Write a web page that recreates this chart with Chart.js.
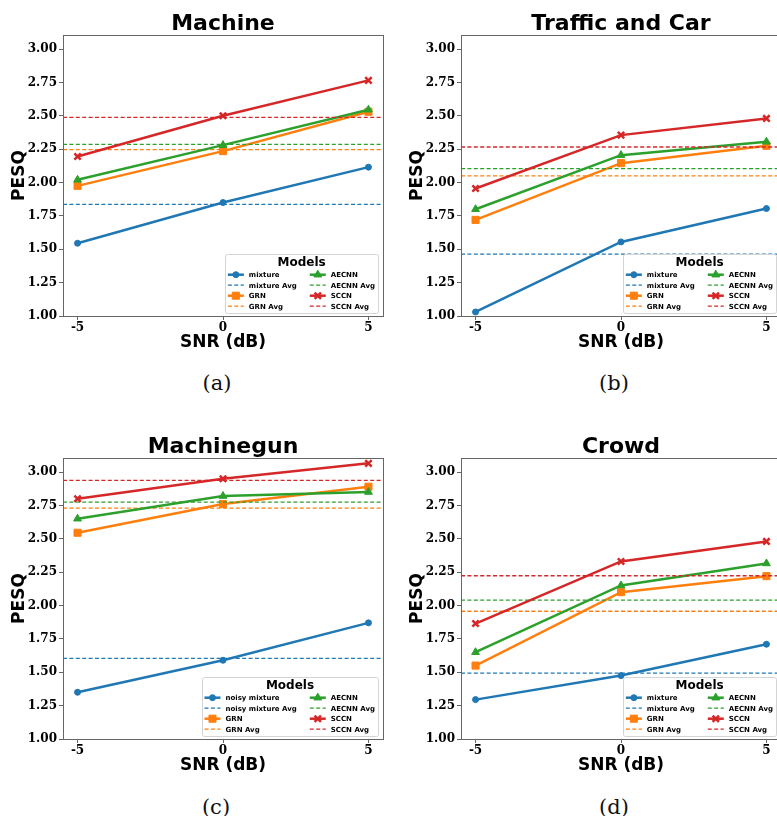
<!DOCTYPE html>
<html>
<head>
<meta charset="utf-8">
<script src="https://cdn.jsdelivr.net/npm/chart.js"></script>
<style>
  body { margin: 0; width: 777px; height: 816px; overflow: hidden; background: #fff; position: relative; }
  .panel { position: absolute; width: 390px; height: 360px; }
  .cap { position: absolute; width: 80px; text-align: center; font: 21px "DejaVu Serif"; line-height: 24px; color: #111; }
</style>
</head>
<body>
<div class="panel" style="left:0;top:0"><canvas id="c0" width="390" height="360"></canvas></div>
<div class="panel" style="left:398px;top:0"><canvas id="c1" width="390" height="360"></canvas></div>
<div class="panel" style="left:0;top:423px"><canvas id="c2" width="390" height="360"></canvas></div>
<div class="panel" style="left:398px;top:423px"><canvas id="c3" width="390" height="360"></canvas></div>
<div class="cap" style="left:177px;top:371px">(a)</div>
<div class="cap" style="left:574px;top:371px">(b)</div>
<div class="cap" style="left:176px;top:795px">(c)</div>
<div class="cap" style="left:574px;top:795px">(d)</div>
<script>
// values, one entry per panel (a)-(d)
const snr = [-5, 0, 5];
const yTicks = [1.0, 1.25, 1.5, 1.75, 2.0, 2.25, 2.5, 2.75, 3.0];
const titles = ["Machine", "Traffic and Car", "Machinegun", "Crowd"];
const mixtureNames = ["mixture", "mixture", "noisy mixture", "mixture"];

const mixtureScores = [[1.545, 1.85, 2.115], [1.03, 1.555, 1.805], [1.35, 1.59, 1.87], [1.295, 1.475, 1.71]];
const grnScores = [[1.975, 2.235, 2.53], [1.72, 2.145, 2.275], [2.545, 2.76, 2.89], [1.55, 2.10, 2.22]];
const aecnnScores = [[2.02, 2.28, 2.545], [1.80, 2.205, 2.305], [2.65, 2.82, 2.85], [1.65, 2.15, 2.315]];
const sccnScores = [[2.195, 2.50, 2.765], [1.955, 2.355, 2.48], [2.80, 2.95, 3.065], [1.865, 2.33, 2.48]];

const mixtureAvg = [1.836, 1.464, 1.604, 1.494];
const grnAvg = [2.247, 2.049, 2.73, 1.957];
const aecnnAvg = [2.286, 2.104, 2.775, 2.041];
const sccnAvg = [2.488, 2.266, 2.938, 2.223];

const colors = { mixture: "#1f77b4", grn: "#ff7f0e", aecnn: "#2ca02c", sccn: "#d62728" };

Chart.defaults.font.family = "DejaVu Sans";
Chart.defaults.color = "#000";

const X_MIN = -5.5, X_MAX = 5.5;

// box around the axes, like matplotlib spines
const frame = {
  id: "frame",
  afterDatasetsDraw(chart) {
    const { ctx, chartArea: a } = chart;
    ctx.save();
    ctx.strokeStyle = "#666";
    ctx.lineWidth = 1;
    ctx.strokeRect(Math.round(a.left) + 0.5, Math.round(a.top) + 0.5,
      Math.round(a.right - a.left), Math.round(a.bottom - a.top));
    ctx.restore();
  }
};

// two-column legend in the lower right corner
const boxLegend = {
  id: "boxLegend",
  afterDraw(chart) {
    const { ctx, chartArea: a } = chart;
    const sets = chart.data.datasets;
    const cols = [sets.slice(0, 4), sets.slice(4)];
    ctx.save();
    ctx.font = 'bold 7px "DejaVu Sans"';
    const widths = cols.map(c => Math.max(...c.map(d => ctx.measureText(d.label).width)));
    const hl = 16, gap = 5, colGap = 13, padL = 2.5, padR = 3, h = 59;
    const w = padL + hl + gap + widths[0] + colGap + hl + gap + widths[1] + padR;
    const x0 = a.right - 5 - w, y0 = a.bottom - 3 - h;

    ctx.fillStyle = "rgba(255,255,255,0.85)";
    ctx.strokeStyle = "#d4d4d4";
    ctx.lineWidth = 1;
    ctx.beginPath();
    ctx.roundRect(Math.round(x0) + 0.5, Math.round(y0) + 0.5, Math.round(w), h, 2);
    ctx.fill();
    ctx.stroke();

    ctx.fillStyle = "#000";
    ctx.font = 'bold 12px "DejaVu Sans"';
    ctx.textAlign = "center";
    ctx.textBaseline = "middle";
    ctx.fillText("Models", x0 + w / 2, y0 + 8.5);

    ctx.font = 'bold 7px "DejaVu Sans"';
    ctx.textAlign = "left";
    cols.forEach((col, c) => {
      const hx = c ? x0 + padL + hl + gap + widths[0] + colGap : x0 + padL;
      col.forEach((d, r) => {
        const y = y0 + 20.7 + r * 10.5;
        ctx.save();
        ctx.strokeStyle = d.borderColor;
        ctx.lineWidth = d.borderWidth;
        ctx.setLineDash(d.borderDash || []);
        ctx.beginPath();
        ctx.moveTo(hx, y);
        ctx.lineTo(hx + hl, y);
        ctx.stroke();
        ctx.setLineDash([]);
        if (d.pointRadius > 0) {
          ctx.fillStyle = d.borderColor;
          ctx.lineWidth = d.pointBorderWidth;
          Chart.helpers.drawPoint(ctx, { pointStyle: d.pointStyle, radius: d.pointRadius, borderWidth: d.pointBorderWidth, rotation: 0 }, hx + hl / 2, y);
        }
        ctx.restore();
        ctx.fillStyle = "#000";
        ctx.fillText(d.label, hx + hl + gap, y + 0.5);
      });
    });
    ctx.restore();
  }
};

function seriesSet(label, color, values, style, radius, bw) {
  return {
    label, borderColor: color, backgroundColor: color,
    data: snr.map((x, i) => ({ x, y: values[i] })),
    borderWidth: 2.5, pointStyle: style, pointRadius: radius,
    pointBorderWidth: bw, pointBackgroundColor: color, pointBorderColor: color
  };
}

function avgSet(label, color, value) {
  return {
    label, borderColor: color, backgroundColor: color,
    data: [{ x: X_MIN, y: value }, { x: X_MAX, y: value }],
    borderWidth: 1.3, borderDash: [4, 2.4], pointRadius: 0
  };
}

function makeChart(id, p) {
  const mix = mixtureNames[p];
  const datasets = [
    seriesSet(mix, colors.mixture, mixtureScores[p], "circle", 3, 1),
    avgSet(mix + " Avg", colors.mixture, mixtureAvg[p]),
    seriesSet("GRN", colors.grn, grnScores[p], "rect", 5, 1),
    avgSet("GRN Avg", colors.grn, grnAvg[p]),
    seriesSet("AECNN", colors.aecnn, aecnnScores[p], "triangle", 4.5, 1),
    avgSet("AECNN Avg", colors.aecnn, aecnnAvg[p]),
    seriesSet("SCCN", colors.sccn, sccnScores[p], "crossRot", 4.5, 2.5),
    avgSet("SCCN Avg", colors.sccn, sccnAvg[p])
  ];
  // later series on top, as in matplotlib
  datasets.forEach((d, i) => { d.order = -i; });

  new Chart(document.getElementById(id), {
    type: "line",
    data: { datasets },
    options: {
      responsive: false,
      animation: false,
      events: [],
      devicePixelRatio: 1,
      layout: { padding: { left: 0, right: 3, top: 0, bottom: 7 } },
      plugins: {
        legend: { display: false },
        tooltip: { enabled: false },
        title: {
          display: true, text: titles[p], fullSize: false,
          font: { size: 22, weight: "bold", lineHeight: 1 },
          padding: { top: 13, bottom: 0 }
        }
      },
      scales: {
        x: {
          type: "linear", min: X_MIN, max: X_MAX,
          afterBuildTicks: s => { s.ticks = snr.map(v => ({ value: v })); },
          afterFit: s => { s.height = 37; },
          ticks: { font: { family: "DejaVu Serif", size: 12, weight: "bold" }, padding: 1, maxRotation: 0, callback: v => String(v) },
          grid: { drawOnChartArea: false, drawTicks: true, tickLength: 4, color: "#666" },
          border: { display: false },
          title: { display: true, text: "SNR (dB)", font: { size: 17, weight: "bold" }, padding: { top: 0, bottom: 0 } }
        },
        y: {
          min: 1.0, max: 3.105,
          afterBuildTicks: s => { s.ticks = yTicks.map(v => ({ value: v })); },
          afterFit: s => { s.width = 63; },
          ticks: { font: { family: "DejaVu Serif", size: 12, weight: "bold" }, padding: 2, callback: v => v.toFixed(2) },
          grid: { drawOnChartArea: false, drawTicks: true, tickLength: 4, color: "#666" },
          border: { display: false },
          title: { display: true, text: "PESQ", font: { size: 17, weight: "bold" }, padding: { top: 9, bottom: 0 } }
        }
      }
    },
    plugins: [frame, boxLegend]
  });
}

[0, 1, 2, 3].forEach(p => makeChart("c" + p, p));
</script>
</body>
</html>
